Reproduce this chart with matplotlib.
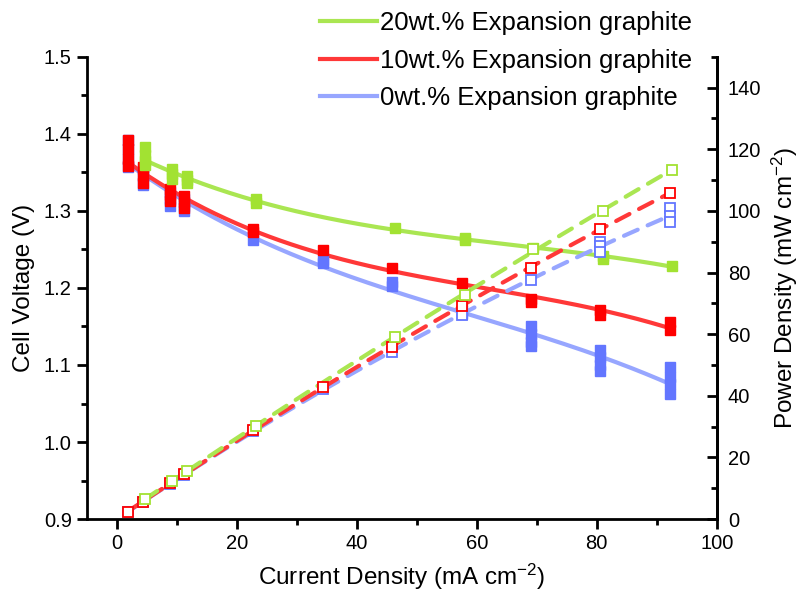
import matplotlib.pyplot as plt
import numpy as np

plt.rcParams['font.family'] = ['Liberation Sans', 'DejaVu Sans']
plt.rcParams['mathtext.fontset'] = 'custom'
plt.rcParams['mathtext.rm'] = 'Liberation Sans'
plt.rcParams['mathtext.it'] = 'Liberation Sans:italic'

# current density (mA cm-2)
x_0 = [1.8, 4.3, 8.8, 11.2, 22.7, 34.3, 45.8, 57.5, 69.0, 80.5, 92.2]
x_10 = [1.8, 4.3, 8.8, 11.2, 22.7, 34.3, 45.8, 57.5, 69.0, 80.5, 92.2]
x_20 = [4.6, 9.2, 11.6, 23.1, 46.3, 58.0, 69.4, 81.0, 92.6]

# cell voltage (V), repeated readings at each current density
v_0 = [[1.392, 1.380, 1.368, 1.357], [1.355, 1.345, 1.333], [1.325, 1.315, 1.307],
       [1.316, 1.306, 1.300], [1.262], [1.236, 1.232], [1.208, 1.202],
       [1.171, 1.166], [1.150, 1.140, 1.130, 1.124], [1.120, 1.110, 1.100, 1.092],
       [1.098, 1.085, 1.075, 1.062]]
v_10 = [[1.392, 1.380, 1.368, 1.358], [1.357, 1.347, 1.336], [1.328, 1.320, 1.313],
        [1.319, 1.311, 1.304], [1.276, 1.272], [1.249], [1.226],
        [1.207], [1.186, 1.182], [1.171, 1.165], [1.156, 1.146]]
v_20 = [[1.383, 1.372, 1.365, 1.359], [1.354, 1.348, 1.342], [1.345, 1.340, 1.336],
        [1.316, 1.310], [1.278], [1.265, 1.262], [1.252], [1.241, 1.237], [1.229]]

# power density (mW cm-2)
p_0 = [[2.2], [5.4], [11.5], [14.4], [28.6], [42.3], [54.2], [66.2], [77.6],
       [90.0, 88.5, 86.7], [101.0, 98.5, 96.4]]
p_10 = [[2.3], [5.5], [11.7], [14.6], [28.9], [42.9], [55.8], [69.2], [81.5],
        [94.2], [105.8]]
p_20 = [[6.5], [12.3], [15.6], [30.2], [59.0], [72.8], [87.7], [100.0], [113.3]]

labels = ['0wt.% Expansion graphite', '10wt.% Expansion graphite', '20wt.% Expansion graphite']
mark_colors = ['#6376ff', '#ff0000', '#a2e232']
line_colors = ['#97a6ff', '#ff3838', '#aae652']

fig = plt.figure(figsize=(7.99, 5.98), dpi=100)
ax = fig.add_axes([0.109, 0.132, 0.788, 0.773])
ax2 = ax.twinx()

handles = []
for xs, vs, ps, mc, lc, lab in zip([x_0, x_10, x_20], [v_0, v_10, v_20], [p_0, p_10, p_20],
                                   mark_colors, line_colors, labels):
    xs = np.array(xs)
    vmean = np.array([np.mean(v) for v in vs])
    pmean = np.array([np.mean(p) for p in ps])
    xf = np.linspace(xs[0], xs[-1], 200)
    # fitted curves
    h, = ax.plot(xf, np.polyval(np.polyfit(xs, vmean, 3), xf), color=lc, lw=3, zorder=2, label=lab)
    ax2.plot(xf, np.polyval(np.polyfit(xs, pmean, 2), xf), color=lc, lw=3, ls=(0, (3.6, 2.6)),
             dash_capstyle='round', zorder=2)
    handles.append(h)
    for xi, v in zip(xs, vs):
        ax.plot([xi] * len(v), v, 's', color=mc, ms=7.5, mec=mc, zorder=3)
    for xi, p in zip(xs, ps):
        ax2.plot([xi] * len(p), p, 's', mfc='white', mec=mc, ms=7.5, mew=1.3, zorder=3)

ax.set_xlim(-5, 100)
ax.set_ylim(0.9, 1.5)
ax2.set_ylim(0, 150)

ax.set_xticks(np.arange(0, 101, 20))
ax.set_xticks(np.arange(0, 101, 10), minor=True)
ax.set_yticks(np.arange(0.9, 1.51, 0.1))
ax.set_yticks(np.arange(0.9, 1.51, 0.05), minor=True)
ax2.set_yticks(np.arange(0, 141, 20))
ax2.set_yticks(np.arange(0, 151, 10), minor=True)

for a in (ax, ax2):
    a.spines['top'].set_visible(False)
    for s in a.spines.values():
        s.set_linewidth(2)
ax.tick_params(which='major', direction='out', length=7, width=2, labelsize=14.5, pad=4)
ax.tick_params(which='minor', direction='out', length=4, width=2)
ax2.tick_params(which='major', direction='in', length=7, width=2, labelsize=14.5, pad=8)
ax2.tick_params(which='minor', direction='in', length=4, width=2)
ax2.spines['left'].set_visible(False)
ax2.spines['bottom'].set_visible(False)

ax.set_xlabel('Current Density (mA cm$^{-2}$)', fontsize=17.5, labelpad=6)
ax.set_ylabel('Cell Voltage (V)', fontsize=17.5, labelpad=6)
ax2.set_ylabel('Power Density (mW cm$^{-2}$)', fontsize=17.5, labelpad=6)

fig.legend(handles[::-1], labels[::-1], loc='upper left', bbox_to_anchor=(0.385, 1.003),
           frameon=False, fontsize=18.5, borderpad=0, handlelength=2.2, handletextpad=0.12,
           labelspacing=0.53)

fig.savefig('out.png', dpi=100)
